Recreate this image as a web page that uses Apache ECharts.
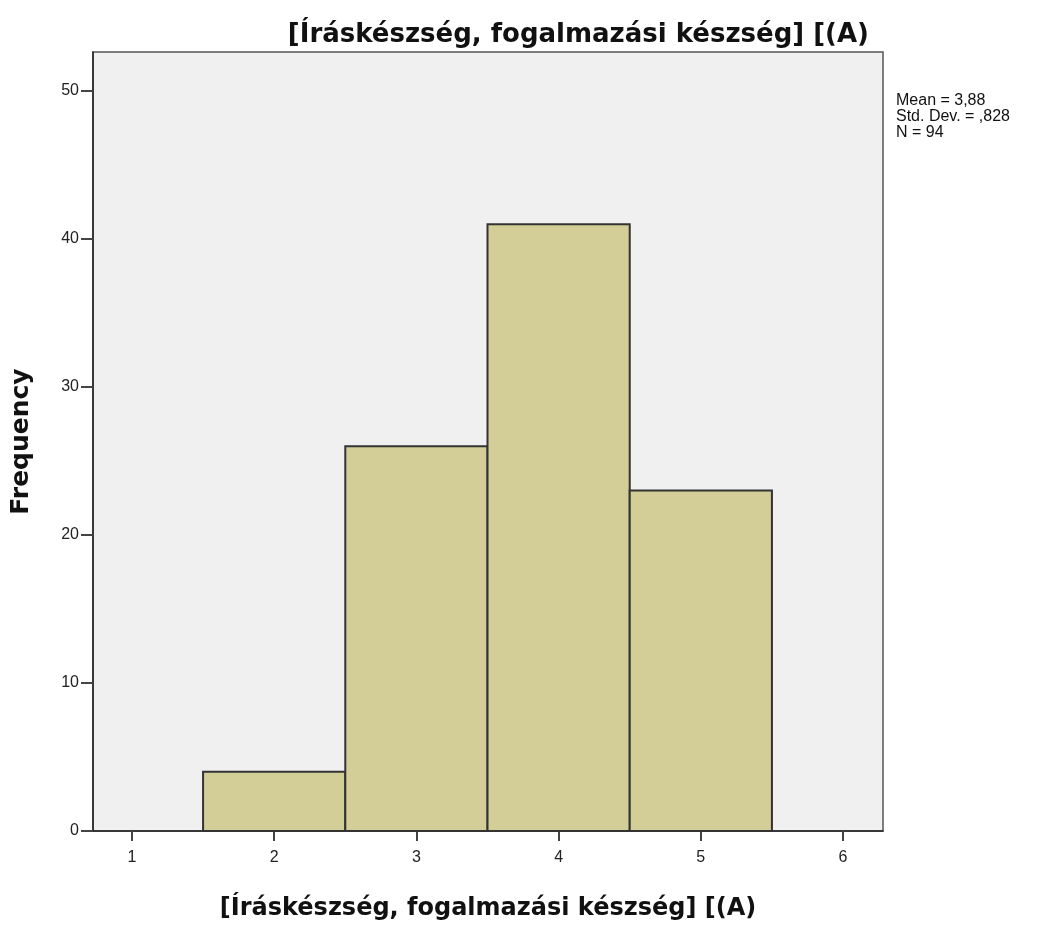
<!DOCTYPE html>
<html>
<head>
<meta charset="utf-8">
<script src="https://cdn.jsdelivr.net/npm/echarts@6/dist/echarts.min.js"></script>
<style>
  html, body { margin: 0; padding: 0; background: #fff; }
  #chart { width: 1050px; height: 926px; }
</style>
</head>
<body>
<div id="chart"></div>
<script>
// histogram bins (lower edge, upper edge) and counts
const binStart = [1.5, 2.5, 3.5, 4.5];
const binEnd = [2.5, 3.5, 4.5, 5.5];
const counts = [4, 26, 41, 23];
const xTicks = [1, 2, 3, 4, 5, 6];
const yTicks = [0, 10, 20, 30, 40, 50];
const statsLines = ['Mean = 3,88', 'Std. Dev. = ,828', 'N = 94'];
const titleText = '[Íráskészség, fogalmazási készség] [(A)';

const chart = echarts.init(document.getElementById('chart'));
const font = '"Liberation Sans", Arial, sans-serif';
const boldFont = '"DejaVu Sans", sans-serif';

const option = {
    animation: false,
    backgroundColor: '#fff',
    title: {
        text: titleText,
        right: 176,
        top: 17,
        textStyle: { fontFamily: boldFont, fontSize: 26, fontWeight: 'bold', color: '#111' }
    },
    graphic: [{
        type: 'text',
        left: 896,
        top: 93,
        style: {
            text: statsLines.join('\n'),
            font: '16px ' + font,
            lineHeight: 16,
            fill: '#111'
        }
    }],
    grid: {
        left: 93, top: 52, width: 790, height: 781,
        show: true,
        backgroundColor: '#f0f0f0',
        borderColor: '#555',
        borderWidth: 1.5
    },
    xAxis: {
        type: 'value',
        min: 0.726,
        max: 6.281,
        name: titleText,
        nameLocation: 'middle',
        nameGap: 66,
        nameTextStyle: { fontFamily: boldFont, fontSize: 24, fontWeight: 'bold', color: '#111' },
        axisLine: { show: true, lineStyle: { color: '#222', width: 1.5 } },
        axisTick: { show: true, customValues: xTicks, length: 10, lineStyle: { color: '#444', width: 2 } },
        axisLabel: { customValues: xTicks, fontFamily: font, fontSize: 16, color: '#222', margin: 19 },
        splitLine: { show: false }
    },
    yAxis: {
        type: 'value',
        min: 0,
        max: 52.63,
        name: 'Frequency',
        nameLocation: 'middle',
        nameGap: 59,
        nameRotate: 90,
        nameTextStyle: { fontFamily: boldFont, fontSize: 25, fontWeight: 'bold', color: '#111' },
        axisLine: { show: true, lineStyle: { color: '#222', width: 1.5 } },
        axisTick: { show: true, customValues: yTicks, length: 12, lineStyle: { color: '#444', width: 2 } },
        axisLabel: { customValues: yTicks, fontFamily: font, fontSize: 16, color: '#222', margin: 14 },
        splitLine: { show: false }
    },
    series: [{
        type: 'custom',
        data: counts.map((c, i) => [binStart[i], binEnd[i], c]),
        encode: { x: [0, 1], y: 2 },
        renderItem: function (params, api) {
            const p0 = api.coord([api.value(0), api.value(2)]);
            const p1 = api.coord([api.value(1), 0]);
            return {
                type: 'rect',
                shape: { x: p0[0], y: p0[1], width: p1[0] - p0[0], height: p1[1] - p0[1] },
                style: { fill: '#d3ce97', stroke: '#333', lineWidth: 2 }
            };
        }
    }]
};

chart.setOption(option);
</script>
</body>
</html>
